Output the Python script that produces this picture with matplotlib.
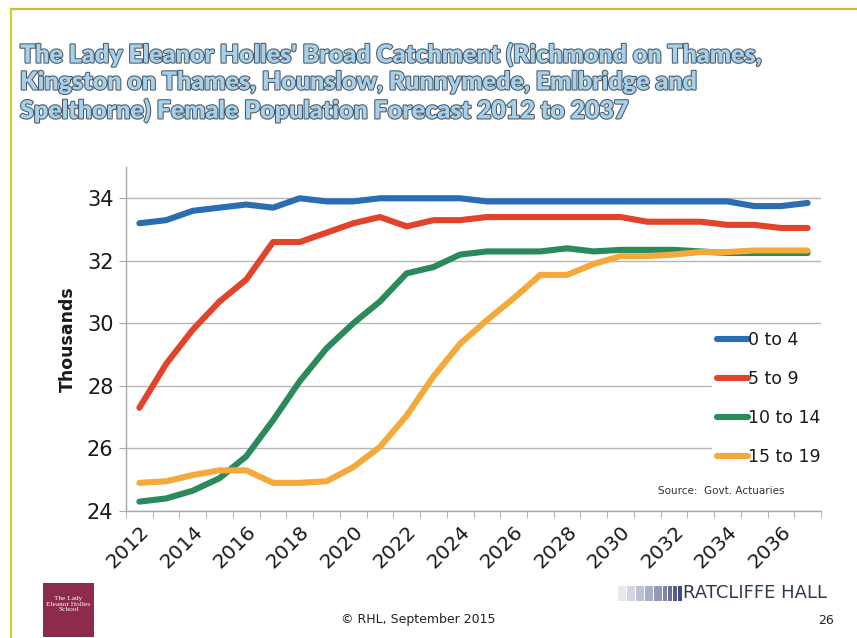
import matplotlib
matplotlib.use("Agg")
import matplotlib.pyplot as plt
import matplotlib.patches as patches
import matplotlib.patheffects as pe

# Female population forecast, thousands
years = list(range(2012, 2038))
age_0_4 = [33.2, 33.3, 33.6, 33.7, 33.8, 33.7, 34.0, 33.9, 33.9, 34.0, 34.0, 34.0, 34.0,
           33.9, 33.9, 33.9, 33.9, 33.9, 33.9, 33.9, 33.9, 33.9, 33.9, 33.75, 33.75, 33.85]
age_5_9 = [27.3, 28.7, 29.8, 30.7, 31.4, 32.6, 32.6, 32.9, 33.2, 33.4, 33.1, 33.3, 33.3,
           33.4, 33.4, 33.4, 33.4, 33.4, 33.4, 33.25, 33.25, 33.25, 33.15, 33.15, 33.05, 33.05]
age_10_14 = [24.3, 24.4, 24.65, 25.05, 25.75, 26.9, 28.15, 29.2, 30.0, 30.7, 31.6, 31.8, 32.2,
             32.3, 32.3, 32.3, 32.4, 32.3, 32.35, 32.35, 32.35, 32.3, 32.25, 32.25, 32.25, 32.25]
age_15_19 = [24.9, 24.95, 25.15, 25.3, 25.3, 24.9, 24.9, 24.95, 25.4, 26.05, 27.05, 28.3, 29.35,
             30.1, 30.8, 31.55, 31.55, 31.9, 32.15, 32.15, 32.2, 32.28, 32.28, 32.33, 32.33, 32.33]

series = [("0 to 4", age_0_4, "#2a6db3"),
          ("5 to 9", age_5_9, "#e2432b"),
          ("10 to 14", age_10_14, "#2b8a5c"),
          ("15 to 19", age_15_19, "#f3aa3a")]

W, H = 857, 638
fig = plt.figure(figsize=(W / 100, H / 100), dpi=100)
fig.patch.set_facecolor("white")

def fx(px):
    return px / W

def fy(py):
    return 1 - py / H

# slide border lines (top and left)
fig.add_artist(plt.Line2D([fx(11), 1], [fy(9), fy(9)], color="#c5c238", lw=1.6))
fig.add_artist(plt.Line2D([fx(11), fx(11)], [fy(9), 0], color="#d2cf2a", lw=1.6))

# title
title = ("The Lady Eleanor Holles' Broad Catchment (Richmond on Thames,\n"
         "Kingston on Thames, Hounslow, Runnymede, Emlbridge and\n"
         "Spelthorne) Female Population Forecast 2012 to 2037")
fig.text(fx(20), fy(43), title, ha="left", va="top", fontsize=18,
         fontweight="heavy", family="Lato", color="#a6d1ec", linespacing=1.27,
         path_effects=[pe.withStroke(linewidth=1.5, foreground="#4d5862")])

ax = fig.add_axes([fx(126), fy(511), fx(821) - fx(126), fy(167) - fy(511)])
x = list(range(len(years)))
for label, vals, col in series:
    ax.plot(x, vals, color=col, lw=4.4, label=label, solid_capstyle="round",
            solid_joinstyle="round", zorder=3)

ax.set_xlim(-0.5, len(years) - 0.5)
ax.set_ylim(24, 35)
ax.set_yticks([24, 26, 28, 30, 32, 34])
ax.yaxis.grid(True, color="#b5b5b5", lw=1.0)
ax.set_axisbelow(True)
for s in ["top", "right"]:
    ax.spines[s].set_visible(False)
for s in ["left", "bottom"]:
    ax.spines[s].set_color("#a8a8a8")
    ax.spines[s].set_linewidth(1.0)

ax.set_xticks(x[::2])
ax.set_xticklabels([str(y) for y in years[::2]], rotation=45, ha="right",
                   rotation_mode="anchor", fontsize=14.5, color="#1a1a1a")
ax.set_xticks([i - 0.5 for i in range(len(years) + 1)], minor=True)
ax.tick_params(axis="x", which="major", length=0, pad=8)
ax.tick_params(axis="x", which="minor", length=5, color="#a8a8a8", direction="out")
ax.tick_params(axis="y", length=5, color="#a8a8a8", labelsize=15, pad=4, labelcolor="#1a1a1a")

ax.set_ylabel("Thousands", fontsize=12.5, fontweight="bold", color="#1a1a1a", labelpad=7)

leg = ax.legend(loc="upper left", bbox_to_anchor=(fx(712), fy(326)),
                bbox_transform=fig.transFigure, frameon=True, fontsize=12.5,
                handlelength=1.75, handletextpad=0.0, labelspacing=1.2,
                borderpad=0.3, borderaxespad=0)
leg.get_frame().set_facecolor("white")
leg.get_frame().set_edgecolor("none")
leg.get_frame().set_alpha(1)
for ln in leg.get_lines():
    ln.set_linewidth(4.4)
for t in leg.get_texts():
    t.set_color("#1a1a1a")

fig.text(fx(658), fy(491), "Source:  Govt. Actuaries", fontsize=7.5, color="#333333",
         ha="left", va="center")

# footer
fig.add_artist(patches.Rectangle((fx(43), fy(637)), fx(94) - fx(43), fy(583) - fy(637),
                                 transform=fig.transFigure, facecolor="#8c2b4b",
                                 edgecolor="none"))
fig.text(fx(68.5), fy(604), "The Lady\nEleanor Holles\nSchool", fontsize=5.2,
         family="Liberation Serif", color="white", ha="center", va="center",
         linespacing=1.2)
fig.text(fx(418), fy(620), "\u00a9 RHL, September 2015", fontsize=9, color="#222222",
         ha="center", va="center")
fig.text(fx(826), fy(620), "26", fontsize=9, color="#222222", ha="center", va="center")

shades = ["#e6e8ef", "#d4d7e2", "#bcc1d3", "#a9afc6", "#9399b6", "#7f86a8", "#6a7299",
          "#555e8b", "#414b7c"]
bx = 618
for i, c in enumerate(shades):
    w = 9 if i < 5 else 5
    fig.add_artist(patches.Rectangle((fx(bx), fy(601)), fx(w - 1.5), fy(586) - fy(601),
                                     transform=fig.transFigure, facecolor=c,
                                     edgecolor="none"))
    bx += w
fig.text(fx(683), fy(593), "RATCLIFFE HALL", fontsize=13, color="#2f3b4d",
         ha="left", va="center")

fig.savefig("out.png", dpi=100)
